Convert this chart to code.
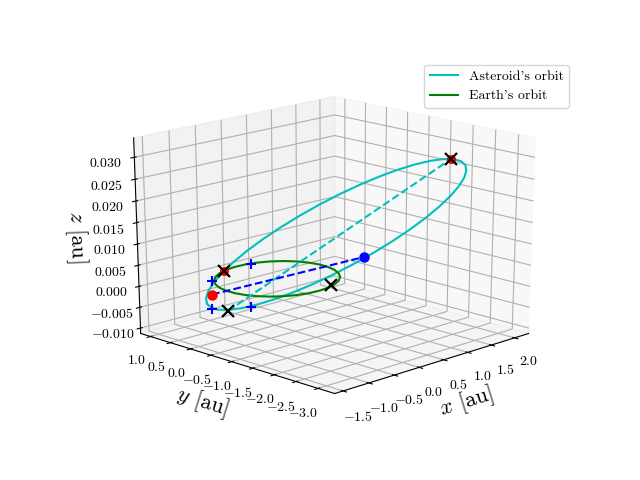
import numpy as np, seaborn as sns, matplotlib
matplotlib.use('Agg')
import matplotlib.pyplot as plt

# Values (x, y in milli-au; z in 1e-5 au)
earth_x = [-698,-814,-893,-931,-929,-886,-805,-688,-541,-370,-182,17,216,409,587,742,866,954,1001,1005,965,882,761,606,426,228,23,-182,-376,-550,-698]
earth_y = [619,436,233,21,-193,-399,-589,-755,-891,-990,-1050,-1066,-1038,-966,-854,-705,-525,-322,-105,116,332,532,707,848,949,1006,1015,979,897,775,619]
ast_x = [-1078,-863,-615,-340,-44,264,576,883,1177,1449,1691,1897,2061,2178,2246,2265,2233,2155,2031,1867,1668,1439,1187,916,635,349,65,-212,-476,-720,-941,-1133,-1292,-1414,-1497,-1537,-1533,-1485,-1392,-1256,-1078]
ast_y = [318,494,633,729,779,781,734,639,498,315,95,-156,-430,-720,-1017,-1312,-1599,-1869,-2116,-2335,-2520,-2668,-2777,-2845,-2871,-2855,-2798,-2702,-2570,-2403,-2207,-1984,-1739,-1478,-1206,-928,-652,-382,-126,109,318]
ast_z = [-343,-556,-727,-850,-922,-938,-899,-803,-655,-456,-214,66,374,702,1040,1380,1711,2026,2316,2575,2798,2979,3116,3207,3249,3244,3192,3094,2954,2774,2557,2309,2035,1740,1431,1113,794,482,183,-94,-343]
plus_x = [-1051,-1568,-802,184]
plus_y = [-736,-448,552,817]
plus_z = [869,561,-625,-976]
cross_x = [-1535,-320,1746,1099]
cross_y = [-699,766,686,-2803]
cross_z = [848,-894,-897,3150]
node_x = [-1206,1773]
node_y = [25,-94]
node_z = [0,0]
x_ticks = [-1.5,-1,-.5,0,.5,1,1.5,2]
y_ticks = [-3,-2.5,-2,-1.5,-1,-.5,0,.5,1]
z_ticks = [-.01,-.005,0,.005,.01,.015,.02,.025,.03]

sns.reset_defaults()
plt.rcParams['mathtext.fontset'] = 'cm'
plt.rcParams['font.family'] = ['cmr10', 'DejaVu Serif']
plt.rcParams['axes.unicode_minus'] = False

def mx(v): return np.array(v) / 1000
def mz(v): return np.array(v) / 1e5

fig = plt.figure(figsize=(6.4, 4.8), dpi=100)
ax = fig.add_subplot(projection='3d')
ax.apply_aspect = lambda position=None: None
ax.set_box_aspect((1, 1, 1), zoom=1 / (1.8294640721620434 / np.sqrt(3)))
ax.computed_zorder = False

cyan, green, blue, red = '#00bfbf', '#008000', '#0000ff', '#ff0000'
ax.plot(mx(ast_x), mx(ast_y), mz(ast_z), color=cyan, label="Asteroid's orbit")
ax.plot(mx(earth_x), mx(earth_y), np.zeros(len(earth_x)), color=green, label="Earth's orbit")
ax.plot(mx([cross_x[1], cross_x[3]]), mx([cross_y[1], cross_y[3]]), mz([cross_z[1], cross_z[3]]), '--', color=cyan)
ax.plot(mx(node_x), mx(node_y), mz(node_z), '--', color=blue)
ax.plot(mx(plus_x), mx(plus_y), mz(plus_z), '+', color=blue, ms=7.5, mew=1.5)
ax.plot(mx(node_x[:1]), mx(node_y[:1]), mz(node_z[:1]), 'o', color=red, ms=6.5)
ax.plot(mx(node_x[1:]), mx(node_y[1:]), mz(node_z[1:]), 'o', color=blue, ms=6.5)
ax.plot(mx([cross_x[0], cross_x[3]]), mx([cross_y[0], cross_y[3]]), mz([cross_z[0], cross_z[3]]), 'o', color=red, ms=5.5)
ax.plot(mx(cross_x), mx(cross_y), mz(cross_z), 'x', color='black', ms=8, mew=1.6)

ax.set_xlim(-1.66, 2.31); ax.set_ylim(-3.37, 1.25); ax.set_zlim(-0.0113, 0.0344)
ax.view_init(20, -135)
ax.set_xticks(x_ticks); ax.set_yticks(y_ticks); ax.set_zticks(z_ticks)
ax.set_xticklabels([f'${v:.1f}$' for v in x_ticks])
ax.set_yticklabels([f'${v:.1f}$' for v in y_ticks])
ax.set_zticklabels([f'${v:.3f}$' for v in z_ticks])
ax.set_xlabel(r'$x$ [au]', fontsize=16)
ax.set_ylabel(r'$y$ [au]', fontsize=16)
ax.set_zlabel(r'$z$ [au]', fontsize=16)
ax.legend()
fig.savefig('out.png', dpi=100)
